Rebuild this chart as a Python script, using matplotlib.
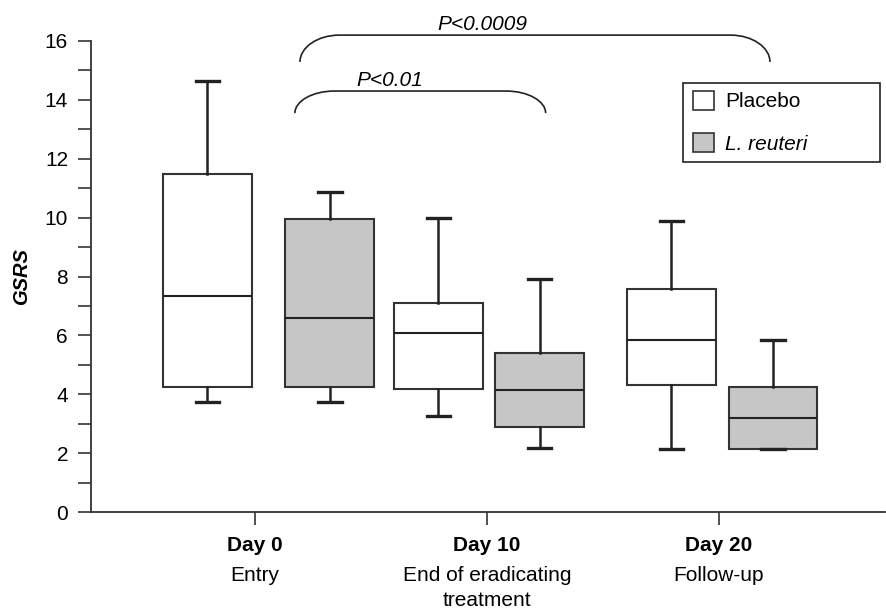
import numpy as np
import matplotlib.pyplot as plt
from matplotlib.patches import Patch, PathPatch, Rectangle
from matplotlib.path import Path

plt.rcParams['font.family'] = ['Liberation Sans', 'DejaVu Sans']

# Data (GSRS score)
days = ['Day 0', 'Day 10', 'Day 20']
day_desc = [['Entry'], ['End of eradicating', 'treatment'], ['Follow-up']]

placebo_whislo = [3.74, 3.26, 2.13]
placebo_q1 = [4.24, 4.18, 4.33]
placebo_med = [7.34, 6.07, 5.84]
placebo_q3 = [11.49, 7.11, 7.59]
placebo_whishi = [14.64, 9.99, 9.87]

reuteri_whislo = [3.74, 2.16, 2.13]
reuteri_q1 = [4.24, 2.89, 2.13]
reuteri_med = [6.58, 4.15, 3.20]
reuteri_q3 = [9.94, 5.39, 4.24]
reuteri_whishi = [10.88, 7.93, 5.85]

# layout
day_x = np.arange(len(days))
placebo_pos = day_x + np.array([-0.205, -0.21, -0.205])
reuteri_pos = day_x + np.array([0.323, 0.227, 0.233])


def stats(lo, q1, med, q3, hi):
    return [dict(whislo=a, q1=b, med=c, q3=d, whishi=e)
            for a, b, c, d, e in zip(lo, q1, med, q3, hi)]


fig = plt.figure(figsize=(8.87, 6.08), dpi=100)
ax = fig.add_axes([91 / 887, 96 / 608, 794 / 887, 471 / 608])

edge = '#333333'
common = dict(widths=0.383, capwidths=0.1, showfliers=False, patch_artist=True,
              medianprops=dict(color='#222222', linewidth=1.5),
              whiskerprops=dict(color='#222222', linewidth=1.8),
              capprops=dict(color='#222222', linewidth=2.4))

ax.bxp(stats(placebo_whislo, placebo_q1, placebo_med, placebo_q3, placebo_whishi),
       positions=placebo_pos, manage_ticks=False,
       boxprops=dict(facecolor='white', edgecolor=edge, linewidth=1.5), **common)
ax.bxp(stats(reuteri_whislo, reuteri_q1, reuteri_med, reuteri_q3, reuteri_whishi),
       positions=reuteri_pos, manage_ticks=False,
       boxprops=dict(facecolor='#c6c6c6', edgecolor=edge, linewidth=1.5), **common)

ax.set_xlim(-0.707, 2.716)
ax.set_ylim(0, 16)
ax.set_yticks(np.arange(0, 17, 2))
ax.set_yticks(np.arange(1, 16, 2), minor=True)
ax.set_xticks(day_x)
ax.set_xticklabels(days, fontweight='bold', fontsize=15)
ax.tick_params(axis='y', which='major', length=9.5, width=1.2, color=edge,
               labelsize=15, pad=7)
ax.tick_params(axis='y', which='minor', length=9.5, width=1.2, color=edge)
ax.tick_params(axis='x', length=9.5, width=1.2, color=edge, pad=8)
for s in ['top', 'right']:
    ax.spines[s].set_visible(False)
for s in ['left', 'bottom']:
    ax.spines[s].set_color(edge)
    ax.spines[s].set_linewidth(1.3)

ax.set_ylabel('GSRS', fontsize=14.5, fontweight='bold', fontstyle='italic', labelpad=10)

# second line(s) of the x labels
trans = ax.get_xaxis_transform()
for x, lines in zip(day_x, day_desc):
    for i, line in enumerate(lines):
        ax.text(x, -0.134 - i * 0.053, line, transform=trans, ha='center',
                va='center', fontsize=15)


# significance brackets
def bracket(x0, x1, yb, yt, r, label, lx):
    k = 0.55
    verts = [(x0, yb), (x0, yb + k * (yt - yb)), (x0 + r * (1 - k), yt), (x0 + r, yt),
             (x1 - r, yt),
             (x1 - r * (1 - k), yt), (x1, yb + k * (yt - yb)), (x1, yb)]
    codes = [Path.MOVETO, Path.CURVE4, Path.CURVE4, Path.CURVE4, Path.LINETO,
             Path.CURVE4, Path.CURVE4, Path.CURVE4]
    ax.add_patch(PathPatch(Path(verts, codes), fill=False, edgecolor='#222222',
                           linewidth=1.2, clip_on=False))
    ax.text(lx, yt + 0.04, label, ha='center', va='bottom', fontsize=15,
            fontstyle='italic', clip_on=False)


bracket(0.194, 2.22, 15.29, 16.2, 0.17, 'P<0.0009', 0.98)
bracket(0.172, 1.253, 13.55, 14.3, 0.17, 'P<0.01', 0.58)

# legend with a fixed-size frame
ax.add_patch(Rectangle((0.745, 0.7437), 0.2485, 0.1677, transform=ax.transAxes,
                       facecolor='white', edgecolor='#222222', linewidth=1.2,
                       clip_on=False, zorder=4))
handles = [Patch(facecolor='white', edgecolor=edge, linewidth=1.2, label='Placebo'),
           Patch(facecolor='#c6c6c6', edgecolor=edge, linewidth=1.2, label='L. reuteri')]
leg = ax.legend(handles=handles, loc='upper left', bbox_to_anchor=(0.7586, 0.894),
                borderaxespad=0, borderpad=0, fontsize=15, frameon=False,
                handlelength=1.0, handleheight=1.0, handletextpad=0.53,
                labelspacing=1.05)
leg.set_zorder(5)
leg.get_texts()[1].set_fontstyle('italic')

fig.savefig('out.png', dpi=100)
